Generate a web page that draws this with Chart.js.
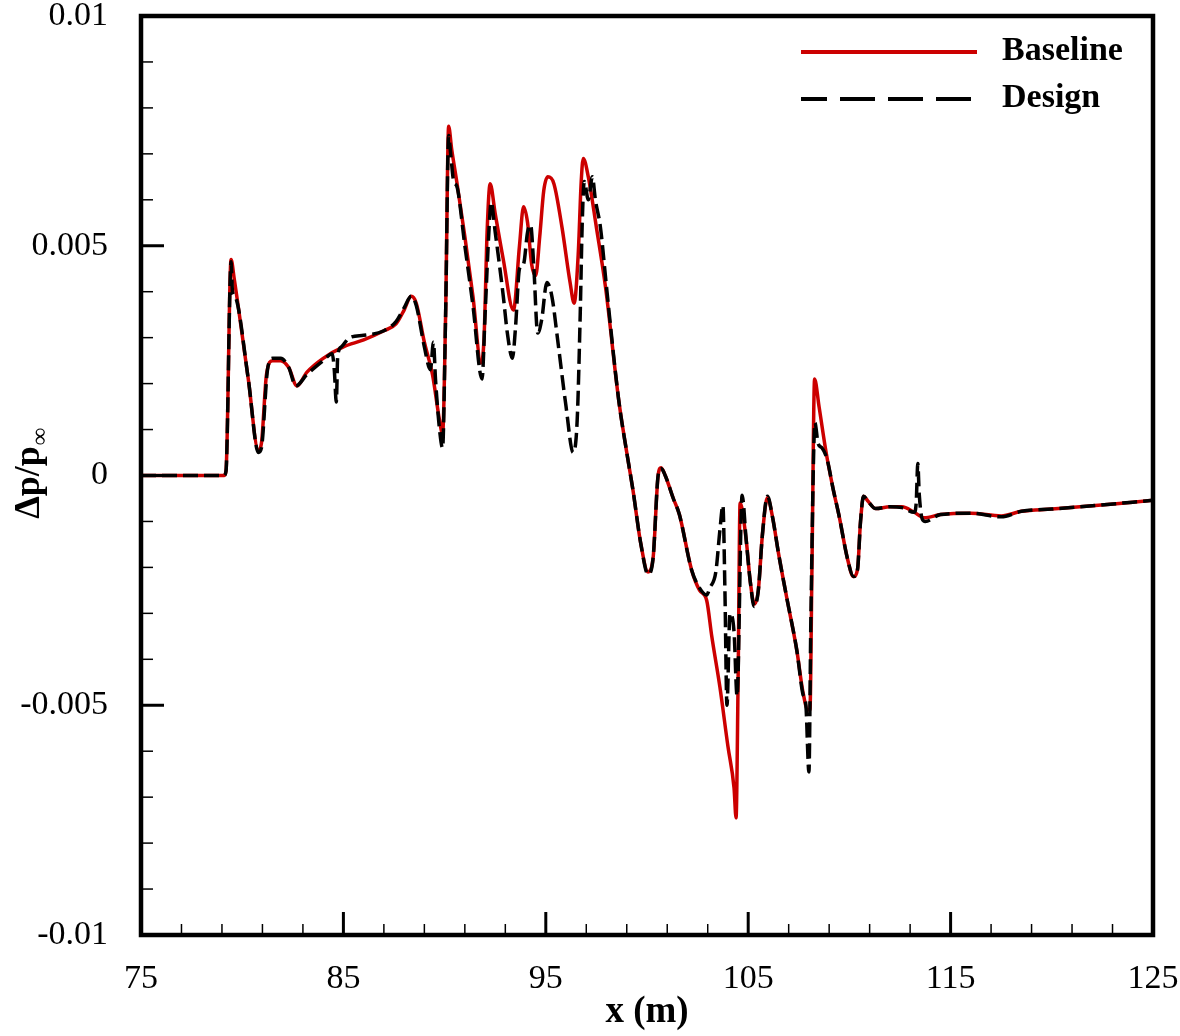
<!DOCTYPE html>
<html>
<head>
<meta charset="utf-8">
<script src="https://cdn.jsdelivr.net/npm/chart.js@4.4.0/dist/chart.umd.min.js"></script>
<style>
  body { margin: 0; background: #fff; }
  #wrap { width: 1180px; height: 1036px; }
</style>
</head>
<body>
<div id="wrap"><canvas id="grafico" width="1180" height="1036"></canvas></div>
<script>
// x positions (m) and dp/p_inf values in units of 1e-3
const baseline = [
  [75,0],[77,0],[79.1,0],[79.2,0.1],[79.45,4.7],[79.6,4.3],[80.3,2.1],[80.8,0.55],[80.95,0.7],
  [81.2,2.2],[81.5,2.5],[81.9,2.5],[82.3,2.35],[82.7,1.95],[83.2,2.25],[84.0,2.55],[85.0,2.8],
  [86.0,2.95],[87.0,3.15],[87.6,3.3],[88.0,3.6],[88.35,3.9],[88.6,3.75],[89.0,2.9],[89.4,2.2],
  [89.75,1.2],[89.9,0.9],[90.05,3.5],[90.2,7.6],[90.35,7.1],[90.6,6.4],[91.0,5.2],[91.4,3.9],
  [91.8,2.45],[91.95,3.0],[92.1,5.3],[92.25,6.35],[92.5,5.7],[92.9,4.7],[93.4,3.6],[93.7,5.0],
  [93.9,5.85],[94.1,5.5],[94.3,4.6],[94.5,4.35],[94.7,5.2],[94.9,6.2],[95.1,6.5],[95.4,6.35],
  [95.8,5.4],[96.2,4.2],[96.4,3.75],[96.6,4.8],[96.75,6.4],[96.85,6.9],[97.1,6.5],[97.5,5.4],
  [97.95,4.1],[98.6,1.65],[99.0,0.5],[99.3,-0.3],[99.7,-1.5],[100.05,-2.1],[100.3,-1.8],
  [100.55,0.0],[100.7,0.17],[100.9,0.0],[101.3,-0.5],[101.6,-0.85],[102.2,-2.05],[102.6,-2.5],
  [102.95,-2.72],[103.2,-3.5],[103.6,-4.6],[104.0,-5.9],[104.3,-6.8],[104.4,-7.45],[104.5,-4.5],
  [104.6,-0.6],[104.9,-1.4],[105.1,-2.3],[105.3,-2.8],[105.5,-2.5],[105.7,-1.3],[105.95,-0.48],
  [106.2,-0.9],[106.5,-1.7],[106.9,-2.65],[107.4,-3.8],[107.7,-4.7],[107.95,-5.1],[108.05,-5.1],
  [108.15,-2.0],[108.28,2.1],[108.5,1.5],[108.85,0.5],[109.2,-0.3],[109.5,-0.9],[109.9,-1.8],
  [110.2,-2.2],[110.4,-2.05],[110.55,-1.0],[110.7,-0.45],[110.9,-0.55],[111.3,-0.72],[112.0,-0.68],
  [112.6,-0.68],[113.2,-0.8],[113.7,-0.92],[114.5,-0.85],[116,-0.82],[117.5,-0.88],[118.5,-0.78],
  [120,-0.73],[122,-0.66],[124,-0.58],[125,-0.54]
];

const design = [
  [75,0],[77,0],[79.1,0],[79.2,0.1],[79.45,4.65],[79.52,4.0],[79.65,3.9],[80.3,2.1],[80.8,0.5],
  [80.95,0.6],[81.25,2.3],[81.5,2.55],[81.9,2.55],[82.3,2.35],[82.65,1.95],[83.2,2.2],[84.0,2.5],
  [84.45,2.65],[84.55,2.3],[84.65,1.6],[84.72,2.6],[84.9,2.8],[85.3,3.0],[86.0,3.05],[87.0,3.15],
  [87.6,3.35],[88.0,3.65],[88.35,3.9],[88.6,3.7],[89.0,2.8],[89.3,2.3],[89.45,2.9],[89.55,2.1],
  [89.75,1.0],[89.9,0.6],[90.05,3.5],[90.2,7.4],[90.3,7.0],[90.45,6.4],[90.6,6.3],[91.0,5.0],
  [91.4,3.7],[91.85,2.1],[92.0,3.5],[92.2,5.4],[92.3,5.95],[92.5,5.3],[92.9,3.9],[93.1,3.1],
  [93.35,2.55],[93.5,3.2],[93.7,4.5],[93.9,4.6],[94.1,5.3],[94.25,5.45],[94.4,4.6],[94.6,3.1],
  [94.8,3.4],[95.05,4.2],[95.3,3.9],[95.6,2.9],[96.0,1.5],[96.35,0.5],[96.55,1.2],[96.7,3.5],
  [96.8,5.5],[96.9,6.4],[97.1,6.0],[97.3,6.5],[97.45,6.0],[97.7,5.4],[98.0,4.1],[98.6,1.65],
  [99.0,0.5],[99.3,-0.3],[99.7,-1.5],[100.05,-2.15],[100.3,-1.8],[100.55,0.0],[100.7,0.15],
  [100.9,0.0],[101.3,-0.5],[101.6,-0.85],[102.2,-2.05],[102.6,-2.45],[102.95,-2.6],[103.1,-2.45],
  [103.4,-2.1],[103.6,-1.2],[103.75,-0.65],[103.85,-2.5],[103.95,-5.0],[104.1,-3.0],[104.3,-3.4],
  [104.45,-4.8],[104.7,-0.43],[104.9,-1.4],[105.1,-2.3],[105.3,-2.85],[105.5,-2.5],[105.7,-1.3],
  [105.95,-0.45],[106.2,-0.9],[106.5,-1.7],[106.9,-2.65],[107.4,-3.8],[107.7,-4.75],[107.85,-5.0],
  [108.0,-6.45],[108.1,-3.0],[108.3,1.15],[108.45,0.7],[108.65,0.6],[108.9,0.35],[109.2,-0.3],
  [109.5,-0.9],[109.9,-1.8],[110.2,-2.2],[110.4,-2.05],[110.55,-1.0],[110.7,-0.45],[110.9,-0.55],
  [111.3,-0.72],[112.0,-0.68],[112.6,-0.7],[113.2,-0.8],[113.3,-0.6],[113.38,0.26],[113.45,-0.4],
  [113.6,-0.95],[113.75,-1.0],[114.5,-0.85],[116,-0.82],[117.5,-0.9],[118.5,-0.78],[120,-0.73],
  [122,-0.66],[124,-0.58],[125,-0.54]
];

const xTicks = [75, 85, 95, 105, 115, 125];
const yTickValues = [-0.01, -0.005, 0, 0.005, 0.01];
const yTickLabels = ['-0.01', '-0.005', '0', '0.005', '0.01'];
const seriesNames = ['Baseline', 'Design'];

const toPoints = arr => arr.map(p => ({ x: p[0], y: p[1] / 1000 }));
const serif = "'Liberation Serif', 'Times New Roman', serif";

// marcos, ticks interiores, leyenda y titulo del eje y
const decor = {
  id: 'decor',
  afterDraw(chart) {
    const { ctx, chartArea: a, scales: { x, y } } = chart;
    ctx.save();
    ctx.strokeStyle = '#000';
    ctx.lineCap = 'butt';

    // ticks eje x
    for (let i = 1; i < 25; i++) {
      const px = x.getPixelForValue(75 + 2 * i);
      const major = i % 5 === 0;
      ctx.lineWidth = major ? 3 : 1.5;
      ctx.beginPath();
      ctx.moveTo(px, a.bottom);
      ctx.lineTo(px, a.bottom - (major ? 23 : 11));
      ctx.stroke();
    }
    // ticks eje y
    for (let i = -9; i <= 9; i++) {
      const py = y.getPixelForValue(i / 1000);
      const major = i % 5 === 0;
      ctx.lineWidth = major ? 3 : 1.5;
      ctx.beginPath();
      ctx.moveTo(a.left, py);
      ctx.lineTo(a.left + (major ? 23 : 12), py);
      ctx.stroke();
    }

    // marco
    ctx.lineWidth = 4.5;
    ctx.strokeRect(a.left, a.top, a.right - a.left, a.bottom - a.top);

    // leyenda
    ctx.lineWidth = 4;
    ctx.strokeStyle = '#cc0000';
    ctx.beginPath(); ctx.moveTo(801, 52); ctx.lineTo(977, 52); ctx.stroke();
    ctx.strokeStyle = '#000';
    ctx.setLineDash([35, 13]);
    ctx.lineDashOffset = 9;
    ctx.beginPath(); ctx.moveTo(801, 99); ctx.lineTo(977, 99); ctx.stroke();
    ctx.setLineDash([]);
    ctx.fillStyle = '#000';
    ctx.font = 'bold 34px ' + serif;
    ctx.textAlign = 'left';
    ctx.textBaseline = 'middle';
    ctx.fillText(seriesNames[0], 1002, 51);
    ctx.fillText(seriesNames[1], 1002, 98);

    // titulo eje y con subindice
    ctx.translate(27, 474);
    ctx.rotate(-Math.PI / 2);
    ctx.font = 'bold 36px ' + serif;
    const main = '\u0394p/p';
    const w1 = ctx.measureText(main).width;
    ctx.font = 'bold 24px ' + serif;
    const w2 = ctx.measureText('\u221e').width;
    const start = -(w1 + w2) / 2;
    ctx.font = 'bold 36px ' + serif;
    ctx.textBaseline = 'alphabetic';
    ctx.fillText(main, start, 12);
    ctx.font = 'bold 24px ' + serif;
    ctx.fillText('\u221e', start + w1 + 1, 20);
    ctx.restore();
  }
};

const ctx = document.getElementById('grafico').getContext('2d');
const grafico = new Chart(ctx, {
  type: 'line',
  data: {
    datasets: [{
      label: seriesNames[0],
      data: toPoints(baseline),
      borderColor: '#cc0000',
      borderWidth: 3.5,
      pointRadius: 0,
      cubicInterpolationMode: 'monotone',
      order: 2
    }, {
      label: seriesNames[1],
      data: toPoints(design),
      borderColor: '#000000',
      borderWidth: 3.5,
      borderDash: [15, 6],
      pointRadius: 0,
      cubicInterpolationMode: 'monotone',
      order: 1
    }]
  },
  options: {
    responsive: false,
    animation: false,
    layout: { padding: { top: 16, right: 27, left: 0, bottom: 0 } },
    plugins: {
      legend: { display: false },
      tooltip: { enabled: false }
    },
    scales: {
      x: {
        type: 'linear',
        min: 75,
        max: 125,
        afterBuildTicks: s => { s.ticks = xTicks.map(v => ({ value: v })); },
        afterFit: s => { s.height = 101; s.paddingLeft = 0; s.paddingRight = 0; },
        grid: { display: false, drawTicks: false },
        border: { display: false },
        ticks: {
          padding: 24,
          color: '#000',
          font: { family: serif, size: 34 },
          maxRotation: 0
        },
        title: {
          display: true,
          text: 'x (m)',
          color: '#000',
          font: { family: serif, size: 37, weight: 'bold' },
          padding: { top: 0, bottom: 1 }
        }
      },
      y: {
        min: -0.01,
        max: 0.01,
        afterBuildTicks: s => { s.ticks = yTickValues.map(v => ({ value: v })); },
        afterFit: s => { s.width = 141; s.paddingTop = 0; s.paddingBottom = 0; },
        grid: { display: false, drawTicks: false },
        border: { display: false },
        ticks: {
          padding: 33,
          color: '#000',
          font: { family: serif, size: 34 },
          callback: v => {
            const i = yTickValues.findIndex(t => Math.abs(t - v) < 1e-9);
            return i >= 0 ? yTickLabels[i] : '';
          }
        }
      }
    }
  },
  plugins: [decor]
});
</script>
</body>
</html>
